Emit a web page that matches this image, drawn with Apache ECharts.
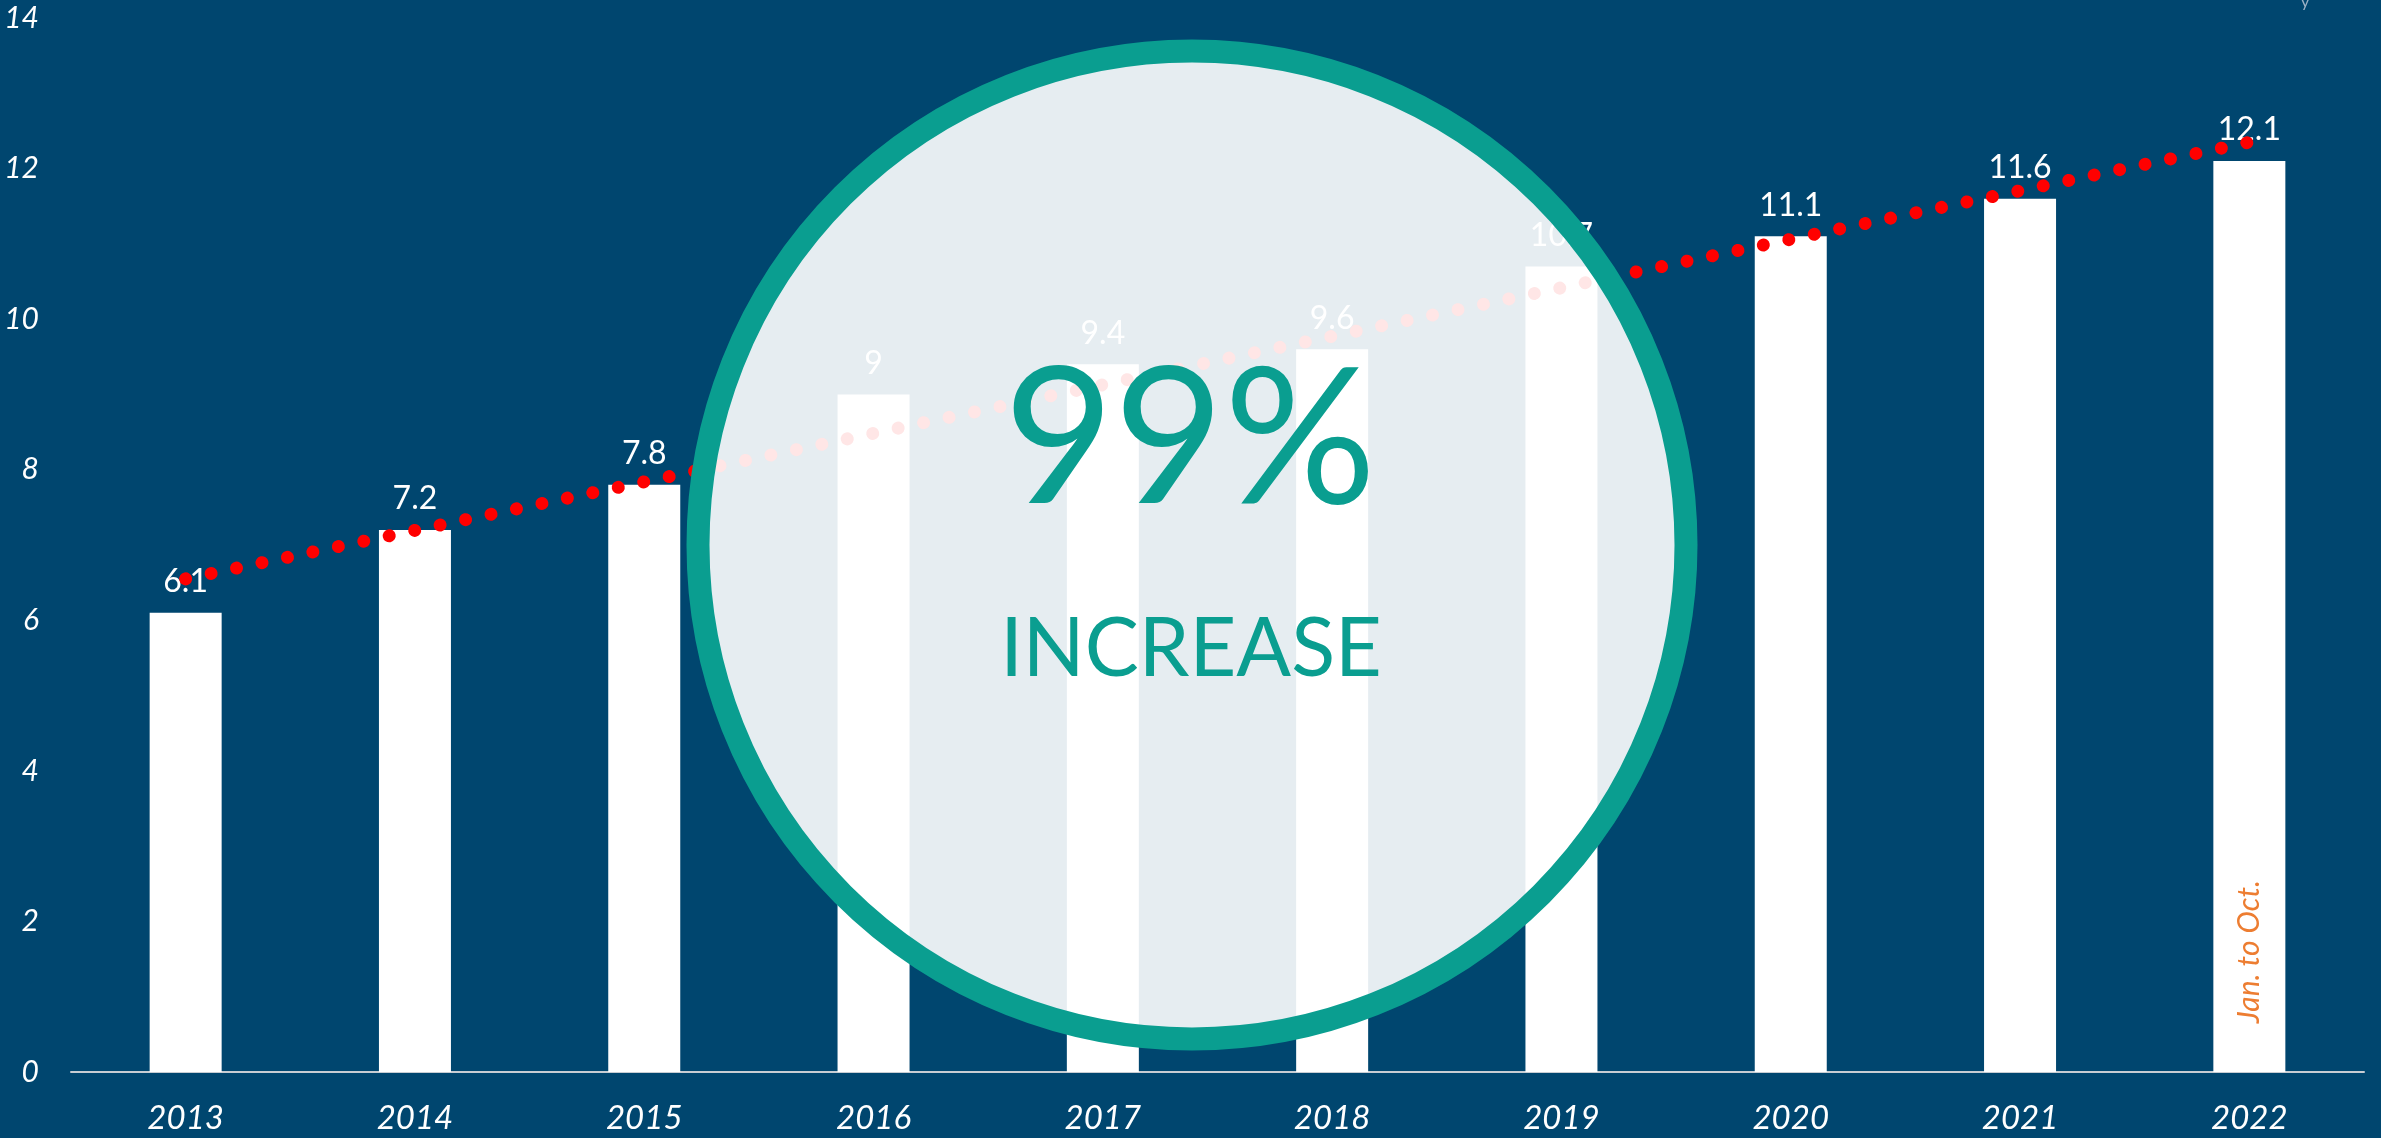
<!DOCTYPE html>
<html>
<head>
<meta charset="utf-8">
<script src="https://cdn.jsdelivr.net/npm/echarts@6/dist/echarts.min.js"></script>
<style>
html,body{margin:0;padding:0;background:#00466F;}
#c{width:2381px;height:1138px;}
</style>
</head>
<body>
<div id="c"></div>
<script>
const years = ['2013','2014','2015','2016','2017','2018','2019','2020','2021','2022'];
const values = [6.1, 7.2, 7.8, 9, 9.4, 9.6, 10.7, 11.1, 11.6, 12.1];
// dotted trend line, endpoints
const trend = [6.55, null, null, null, null, null, null, null, null, 12.35];
const yTicks = { min: 0, max: 14, interval: 2 };
const bigText = '99%';
const subText = 'INCREASE';
const noteText = 'Jan. to Oct.';
const FONT = 'Lato';

const chart = echarts.init(document.getElementById('c'), null, {renderer: 'canvas'});

const option = {
  backgroundColor: '#00466F',
  animation: false,
  grid: { left: 71, right: 17, top: 18, bottom: 66, containLabel: false },
  xAxis: {
    type: 'category',
    data: years,
    axisLine: { show: true, lineStyle: { color: '#C8CDD3', width: 2 } },
    axisTick: { show: false },
    axisLabel: { color: '#FFFFFF', fontFamily: FONT, fontStyle: 'italic', fontSize: 33, margin: 30 },
    splitLine: { show: false }
  },
  yAxis: {
    type: 'value',
    min: yTicks.min, max: yTicks.max, interval: yTicks.interval,
    axisLine: { show: false },
    axisTick: { show: false },
    splitLine: { show: false },
    axisLabel: { color: '#FFFFFF', fontFamily: FONT, fontStyle: 'italic', fontSize: 30, margin: 32 }
  },
  series: [
    {
      type: 'bar',
      data: values,
      barWidth: 72,
      itemStyle: { color: '#FFFFFF' },
      label: { show: true, position: 'top', distance: 15, color: '#FFFFFF', fontFamily: FONT, fontSize: 32 },
      z: 2
    },
    {
      type: 'line',
      data: trend,
      connectNulls: true,
      symbol: 'none',
      lineStyle: { color: '#FF0000', width: 13, type: [0.01, 26], cap: 'round' },
      z: 3
    }
  ],
  graphic: [
    {
      id: 'ring',
      type: 'circle',
      shape: { cx: 1192, cy: 545, r: 494 },
      style: { fill: 'rgba(255,255,255,0.9)', stroke: '#0A9E90', lineWidth: 23 },
      z: 100
    },
    {
      id: 'big',
      type: 'text',
      x: 1190, y: 442,
      style: { text: bigText, fill: '#0A9E90', font: '190px ' + FONT, textAlign: 'center', textVerticalAlign: 'middle' },
      z: 101
    },
    {
      id: 'sub',
      type: 'text',
      x: 1191, y: 650,
      style: { text: subText, fill: '#0A9E90', font: '81px ' + FONT, textAlign: 'center', textVerticalAlign: 'middle' },
      z: 101
    },
    {
      id: 'corner',
      type: 'text',
      x: 2305, y: -6,
      style: { text: 'y', fill: '#9DB2C6', font: '16px ' + FONT, textAlign: 'center', textVerticalAlign: 'top' },
      z: 101
    }
  ]
};
chart.setOption(option);

// note on the last bar, placed through the axes
const p = chart.convertToPixel({seriesIndex: 0}, [years.length - 1, 1.6]);
chart.setOption({
  graphic: [
    {
      id: 'note',
      type: 'text',
      x: p[0], y: p[1],
      rotation: Math.PI / 2,
      style: { text: noteText, fill: '#ED7D31', font: 'italic 30px ' + FONT, textAlign: 'center', textVerticalAlign: 'middle' },
      z: 50
    }
  ]
});
</script>
</body>
</html>
